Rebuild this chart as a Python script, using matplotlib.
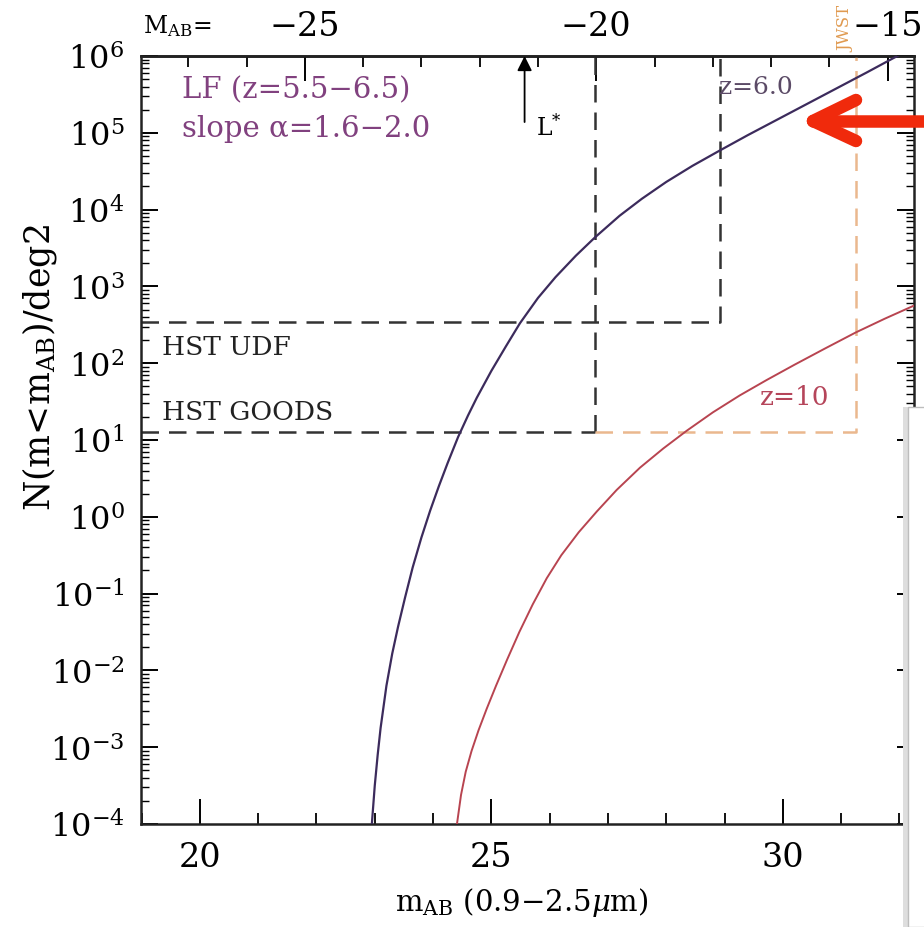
import numpy as np
import matplotlib
matplotlib.use("Agg")
import matplotlib.pyplot as plt
from matplotlib.lines import Line2D
from matplotlib.patches import Rectangle
from matplotlib.ticker import (MultipleLocator, LogLocator, NullFormatter,
                               FixedLocator, FuncFormatter)
import matplotlib.transforms as mtransforms

plt.rcParams["font.family"] = ["DejaVu Serif"]
plt.rcParams["mathtext.fontset"] = "dejavuserif"

# cumulative counts N(<m) per deg2 (log10 N)
z6_mag = [22.95, 23.00, 23.05, 23.10, 23.20, 23.30, 23.40, 23.52, 23.65,
          23.80, 23.95, 24.10, 24.25, 24.43, 24.60, 24.75, 25.00, 25.25,
          25.49, 25.80, 26.10, 26.45, 26.78, 27.20, 27.58, 28.00, 28.45,
          28.92, 29.40, 29.95, 30.50, 31.00, 31.45, 31.89, 32.25]
z6_logn = [-4.00, -3.50, -3.10, -2.75, -2.20, -1.78, -1.43, -1.05, -0.66,
           -0.27, 0.08, 0.40, 0.70, 1.04, 1.32, 1.55, 1.90, 2.22,
           2.52, 2.85, 3.12, 3.40, 3.64, 3.92, 4.14, 4.36, 4.57,
           4.77, 4.97, 5.19, 5.41, 5.61, 5.79, 5.97, 6.11]

z10_mag = [24.41, 24.48, 24.56, 24.66, 24.78, 24.92, 25.08, 25.27, 25.48,
           25.71, 25.95, 26.20, 26.50, 26.81, 27.15, 27.55, 27.95, 28.35,
           28.80, 29.26, 29.72, 30.20, 30.72, 31.25, 31.75, 32.25]
z10_logn = [-4.00, -3.62, -3.32, -3.05, -2.78, -2.50, -2.20, -1.86, -1.50,
            -1.14, -0.80, -0.50, -0.20, 0.07, 0.35, 0.64, 0.89, 1.12,
            1.36, 1.58, 1.78, 1.98, 2.19, 2.40, 2.58, 2.75]

# survey depths (mag limit, N per deg2)
goods_mag, goods_n = 26.78, 12.9
udf_mag, udf_n = 28.92, 347.0
jwst_mag = 31.25
lstar_mag = 25.57

dist_mod = 46.8  # M_AB = m_AB - dist_mod

top_ticks = [-25, -20, -15]
bottom_ticks = [20, 25, 30]

W, H = 924, 928


def fx(px):
    return px / W


def fy(py):
    return 1 - py / H


fig = plt.figure(figsize=(9.24, 9.28), dpi=100)
ax = fig.add_axes([fx(141), fy(825), fx(914) - fx(141), fy(57) - fy(825)])

ax.set_yscale("log")
ax.set_xlim(18.99, 32.25)
ax.set_ylim(1e-4, 1e6)

ax.plot(z6_mag, 10 ** np.array(z6_logn), color="#3c2b5c", lw=1.6, zorder=3)
ax.plot(z10_mag, 10 ** np.array(z10_logn), color="#b84450", lw=1.4, zorder=3)

dash = dict(lw=1.8, dashes=(7, 4))
top = 1e6
ax.plot([18.99, udf_mag, udf_mag], [udf_n, udf_n, top], color="#333333", **dash)
ax.plot([18.99, goods_mag], [goods_n, goods_n], color="#333333", **dash)
ax.plot([goods_mag, goods_mag], [goods_n, top], color="#333333", **dash)
ax.plot([goods_mag, jwst_mag, jwst_mag], [goods_n, goods_n, top],
        color="#eab88e", **dash)

# L* arrow
ax.annotate("", xy=(lstar_mag, 1e6), xytext=(lstar_mag, 10 ** 5.14),
            arrowprops=dict(arrowstyle="-|>", color="black", lw=1.3,
                            mutation_scale=22, shrinkA=0, shrinkB=0))
ax.text(lstar_mag + 0.2, 10 ** 5.08, r"L$^{*}$", fontsize=17, va="center")

ax.text(19.7, 10 ** 5.56, "LF (z=5.5\u22126.5)", color="#81417f", fontsize=21,
        va="center")
ax.text(19.7, 10 ** 5.06, "slope \u03b1=1.6\u22122.0", color="#81417f",
        fontsize=21, va="center")
ax.text(19.35, 10 ** 2.22, "HST UDF", color="#222222", fontsize=19, va="center")
ax.text(19.35, 10 ** 1.37, "HST GOODS", color="#222222", fontsize=19,
        va="center")
ax.text(28.9, 10 ** 5.6, "z=6.0", color="#5b4a66", fontsize=18, va="center")
ax.text(29.6, 10 ** 1.56, "z=10", color="#b5455a", fontsize=19, va="center")

# axes styling
for s in ax.spines.values():
    s.set_linewidth(1.8)
    s.set_color("#222222")

ax.xaxis.set_major_locator(FixedLocator(bottom_ticks))
ax.xaxis.set_minor_locator(MultipleLocator(1))
ax.set_xticklabels([str(t) for t in bottom_ticks])
ax.yaxis.set_major_locator(LogLocator(base=10, numticks=20))
ax.yaxis.set_minor_locator(LogLocator(base=10, subs=np.arange(2, 10), numticks=20))
ax.yaxis.set_minor_formatter(NullFormatter())
ax.yaxis.set_major_formatter(
    FuncFormatter(lambda v, p: r"$10^{%d}$" % round(np.log10(v))))
ax.tick_params(axis="x", which="major", direction="in", length=18, width=1.4,
               labelsize=24, pad=12, top=False, bottom=True)
ax.tick_params(axis="x", which="minor", direction="in", length=8, width=1.3,
               top=False, bottom=True)
ax.tick_params(axis="y", which="major", direction="in", length=12, width=1.4,
               labelsize=23, pad=12, left=True, right=True)
ax.tick_params(axis="y", which="minor", direction="in", length=6, width=1.0,
               left=True, right=True)

sec = ax.secondary_xaxis("top", functions=(lambda m: m - dist_mod,
                                           lambda M: M + dist_mod))
sec.xaxis.set_major_locator(FixedLocator(top_ticks))
sec.xaxis.set_minor_locator(MultipleLocator(1))
sec.set_xticklabels(["\u2212%d" % abs(t) for t in top_ticks])
sec.tick_params(which="major", direction="in", length=18, width=1.4,
                labelsize=24, pad=10)
sec.tick_params(which="minor", direction="in", length=8, width=1.3)
sec.spines["top"].set_linewidth(1.8)

fig.text(fx(143), fy(26), r"M$_{\rm AB}$=", fontsize=17, va="center",
         ha="left")

# JWST label above the orange limit
trans = mtransforms.blended_transform_factory(ax.transData, ax.transAxes)
ax.text(31.08, 1.006, "JWST", color="#e09a50", fontsize=12, rotation=90,
        ha="center", va="bottom", transform=trans, clip_on=False)

fig.text(fx(522), fy(903), "m$_{\\rm AB}$ (0.9\u22122.5$\\mu$m)", fontsize=21,
         ha="center", va="center")
fig.text(fx(40), fy(368), r"N(m<m$_{\rm AB}$)/deg2", fontsize=25,
         rotation=90, ha="center", va="center")

# slide overlay on the right edge
fig.patches.append(Rectangle((fx(903), 0), fx(8), fy(408), transform=fig.transFigure,
                             facecolor="#dedede", edgecolor="none", zorder=10))
fig.patches.append(Rectangle((fx(908), 0), fx(20), fy(408), transform=fig.transFigure,
                             facecolor="white", edgecolor="#bdbdbd", lw=1.0,
                             zorder=11))

# red pointer arrow
red = "#f02a0c"
for xs, ys in [([930, 813], [122, 122]), ([813, 856], [122, 101]),
               ([813, 856], [122, 142])]:
    fig.add_artist(Line2D([fx(x) for x in xs], [fy(y) for y in ys],
                          transform=fig.transFigure, color=red, lw=9,
                          solid_capstyle="round", zorder=12))

fig.savefig("out.png", dpi=100)
